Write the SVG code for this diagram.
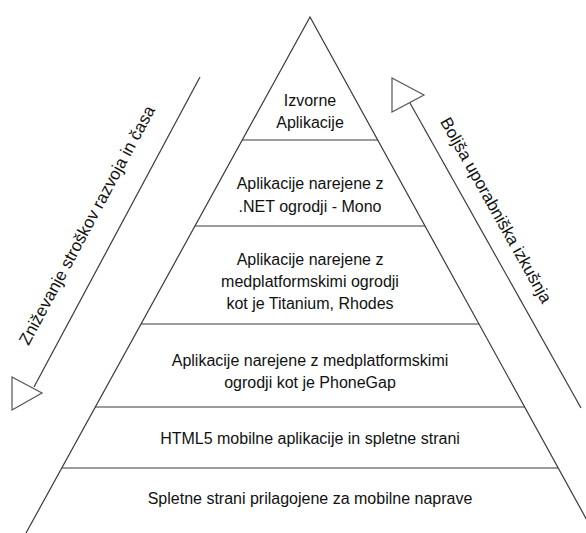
<svg xmlns="http://www.w3.org/2000/svg" width="586" height="533" viewBox="0 0 586 533">
<style>
.ln{stroke:#3a3a3a;stroke-width:1.2;fill:none}
.tri{stroke:#555;stroke-width:1.2;fill:#fff}
text{font-family:"Liberation Sans",Arial,sans-serif;font-size:16px;fill:#111;text-anchor:middle}
.rot{font-size:17px}
</style>
<rect width="586" height="533" fill="#fff"/>
<g id="pyramid">
<polyline class="ln" points="26,533 310,17 594,533"/>
</g>
<g id="level1">
<text x="310" y="106">Izvorne</text>
<text x="310" y="128">Aplikacije</text>
</g>
<g id="level2">
<line class="ln" x1="242" y1="140" x2="378" y2="140"/>
<text x="310" y="189">Aplikacije narejene z</text>
<text x="310" y="212">.NET ogrodji - Mono</text>
</g>
<g id="level3">
<line class="ln" x1="195" y1="226" x2="425" y2="226"/>
<text x="310" y="265">Aplikacije narejene z</text>
<text x="310" y="287">medplatformskimi ogrodji</text>
<text x="310" y="309">kot je Titanium, Rhodes</text>
</g>
<g id="level4">
<line class="ln" x1="141" y1="324" x2="479" y2="324"/>
<text x="310" y="366">Aplikacije narejene z medplatformskimi</text>
<text x="310" y="388">ogrodji kot je PhoneGap</text>
</g>
<g id="level5">
<line class="ln" x1="95" y1="407" x2="525" y2="407"/>
<text x="310" y="444">HTML5 mobilne aplikacije in spletne strani</text>
</g>
<g id="level6">
<line class="ln" x1="62" y1="468" x2="558" y2="468"/>
<text x="310" y="504">Spletne strani prilagojene za mobilne naprave</text>
</g>
<g id="connectors">
<line class="ln" x1="200" y1="77" x2="34" y2="387"/>
<polygon class="tri" points="12,377 42,393 12,410"/>
<line class="ln" x1="410" y1="103" x2="581" y2="408"/>
<polygon class="tri" points="392,78 424,95 392,112"/>
</g>
<g id="label-left">
<text class="rot" transform="translate(92,228) rotate(-61.8)">Zniževanje stroškov razvoja in časa</text>
</g>
<g id="label-right">
<text class="rot" transform="translate(491,213) rotate(60.7)">Boljša uporabniška izkušnja</text>
</g>
</svg>
